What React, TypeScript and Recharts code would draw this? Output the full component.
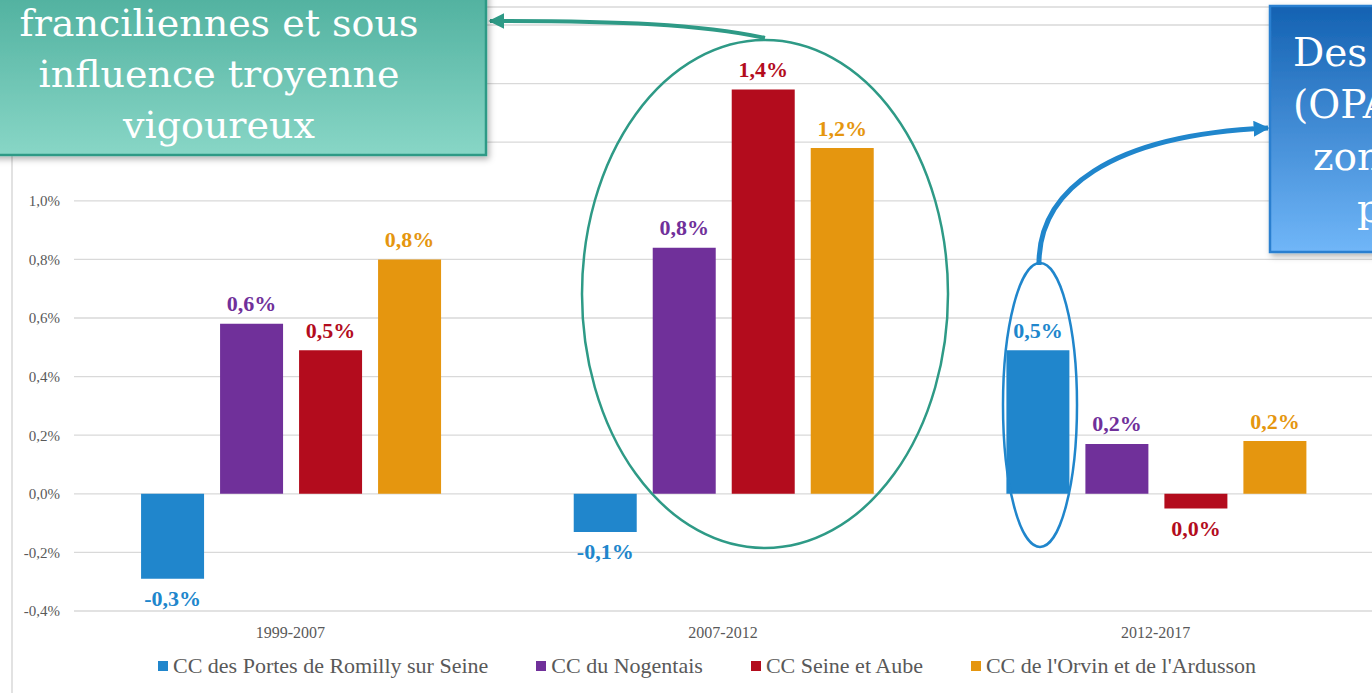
import React from 'react';
import { BarChart, Bar, XAxis, YAxis, CartesianGrid, Legend, LabelList } from 'recharts';

// Taux de variation annuel moyen de la population, par période
const periods = ['1999-2007', '2007-2012', '2012-2017'];
const romilly = [-0.29, -0.13, 0.49];
const nogentais = [0.58, 0.84, 0.17];
const seineAube = [0.49, 1.38, -0.05];
const orvin = [0.8, 1.18, 0.18];

const seriesKeys = ['romilly', 'nogentais', 'seineAube', 'orvin'];
const seriesNames = [
  'CC des Portes de Romilly sur Seine',
  'CC du Nogentais',
  'CC Seine et Aube',
  "CC de l'Orvin et de l'Ardusson",
];
const COLORS = ['#2086CC', '#70309A', '#B30C1D', '#E5960F'];

const yTicks = [-0.4, -0.2, 0, 0.2, 0.4, 0.6, 0.8, 1.0, 1.2, 1.4, 1.6];

const greenLines = ['franciliennes et sous', 'influence troyenne', 'vigoureux'];
const blueLines = ['Des', '(OPA', 'zon', 'p'];

const data = periods.map((p, i) => ({
  period: p,
  romilly: romilly[i],
  nogentais: nogentais[i],
  seineAube: seineAube[i],
  orvin: orvin[i],
}));

// labels above 1,0% sit under the green callout, so they are not drawn
const fmtTick = (v: number) => (v > 1.05 ? '' : v.toFixed(1).replace('.', ',') + '%');
const fmtLabel = (v: number) => (Math.round(v * 10) / 10).toFixed(1).replace('.', ',') + '%';

const GREY = '#595959';
const SERIF = '"Liberation Serif", serif';
const SLAB = '"DejaVu Serif", serif';

const makeLabel = (color: string) => (props: any) => {
  const { x, y, width, height, value } = props;
  const top = Math.min(y, y + height);
  const bottom = Math.max(y, y + height);
  const ly = value < 0 ? bottom + 20 : top - 20;
  return (
    <text
      x={x + width / 2}
      y={ly}
      textAnchor="middle"
      dominantBaseline="central"
      fill={color}
      fontSize={22}
      fontWeight="bold"
      fontFamily={SERIF}
    >
      {fmtLabel(value)}
    </text>
  );
};

const LegendRow = () => (
  <div style={{ display: 'flex', gap: 48, paddingLeft: 158, height: 30, alignItems: 'center' }}>
    {seriesNames.map((n, i) => (
      <div key={n} style={{ display: 'flex', alignItems: 'center', gap: 5 }}>
        <span style={{ width: 10, height: 10, background: COLORS[i], display: 'inline-block' }} />
        <span style={{ fontFamily: SERIF, fontSize: 22, color: GREY, whiteSpace: 'nowrap' }}>{n}</span>
      </div>
    ))}
  </div>
);

const Overlay = () => (
  <svg width={1372} height={693} style={{ position: 'absolute', left: 0, top: 0, pointerEvents: 'none' }}>
    <defs>
      <linearGradient id="gGreen" x1="0" y1="0" x2="0" y2="1">
        <stop offset="0" stopColor="#4CAE9C" />
        <stop offset="1" stopColor="#88D6C6" />
      </linearGradient>
      <linearGradient id="gBlue" x1="0" y1="0" x2="0" y2="1">
        <stop offset="0" stopColor="#1462B2" />
        <stop offset="1" stopColor="#70B6F8" />
      </linearGradient>
      <filter id="shadow" x="-20%" y="-20%" width="140%" height="140%">
        <feDropShadow dx="2" dy="3" stdDeviation="3" floodColor="#000" floodOpacity="0.3" />
      </filter>
      <marker id="arrGreen" viewBox="0 0 10 10" refX="9" refY="5" markerUnits="userSpaceOnUse"
        markerWidth="16" markerHeight="16" orient="auto">
        <path d="M0,0 L10,5 L0,10 z" fill="#2E9A86" />
      </marker>
      <marker id="arrBlue" viewBox="0 0 10 10" refX="9" refY="5" markerUnits="userSpaceOnUse"
        markerWidth="16" markerHeight="16" orient="auto">
        <path d="M0,0 L10,5 L0,10 z" fill="#2086CC" />
      </marker>
    </defs>

    {/* chart area border */}
    <path d="M12 700 L12 7 L1380 7" fill="none" stroke="#D9D9D9" strokeWidth={1.5} />

    {/* ellipses */}
    <ellipse cx={765} cy={294} rx={183} ry={254} fill="none" stroke="#2E9A86" strokeWidth={2.5} />
    <ellipse cx={1040} cy={405} rx={37} ry={142} fill="none" stroke="#2086CC" strokeWidth={2.5} />

    {/* arrows */}
    <path d="M 765 38 C 700 24, 620 21, 490 21" fill="none" stroke="#2E9A86" strokeWidth={4}
      markerEnd="url(#arrGreen)" />
    <path d="M 1039 265 C 1038 190, 1110 135, 1268 128" fill="none" stroke="#2086CC" strokeWidth={5}
      markerEnd="url(#arrBlue)" />

    {/* green callout */}
    <rect x={-60} y={-20} width={546} height={175} fill="url(#gGreen)" stroke="#2E9A86" strokeWidth={2.5}
      filter="url(#shadow)" />
    {greenLines.map((t, i) => (
      <text key={t} x={219} y={36 + i * 51} textAnchor="middle" fill="#fff" fontSize={38} fontFamily={SLAB}>
        {t}
      </text>
    ))}

    {/* blue callout */}
    <rect x={1270} y={6} width={160} height={246} fill="url(#gBlue)" stroke="#2A7FD0" strokeWidth={2.5}
      filter="url(#shadow)" />
    {blueLines.map((t, i) => (
      <text key={t} x={[1293, 1293, 1313, 1357][i]} y={66 + i * 52} fill="#fff" fontSize={39} fontFamily={SLAB}>
        {t}
      </text>
    ))}
  </svg>
);

export default function App() {
  return (
    <div style={{ position: 'fixed', left: 0, top: 0, width: 1372, height: 693, overflow: 'hidden', background: '#fff' }}>
      <BarChart
        width={1372}
        height={693}
        data={data}
        margin={{ top: 25, right: 0, left: 0, bottom: 12 }}
        barCategoryGap="15.5%"
        barGap={16}
        style={{ fontFamily: SERIF }}
      >
        <CartesianGrid vertical={false} stroke="#D9D9D9" strokeWidth={1.3} />
        <XAxis
          dataKey="period"
          axisLine={false}
          tickLine={false}
          height={40}
          tickMargin={10}
          tick={{ fontSize: 16, fill: GREY, fontFamily: SERIF }}
        />
        <YAxis
          width={74}
          domain={[-0.4, 1.6]}
          ticks={yTicks}
          interval={0}
          tickFormatter={fmtTick}
          axisLine={false}
          tickLine={false}
          tickMargin={8}
          tick={{ fontSize: 15, fill: GREY, fontFamily: SERIF }}
        />
        <Legend verticalAlign="bottom" content={() => <LegendRow />} wrapperStyle={{ left: 0, width: 1372 }} />
        {seriesKeys.map((k, i) => (
          <Bar key={k} dataKey={k} name={seriesNames[i]} fill={COLORS[i]} isAnimationActive={false}>
            <LabelList dataKey={k} content={makeLabel(COLORS[i])} />
          </Bar>
        ))}
      </BarChart>
      <Overlay />
    </div>
  );
}
